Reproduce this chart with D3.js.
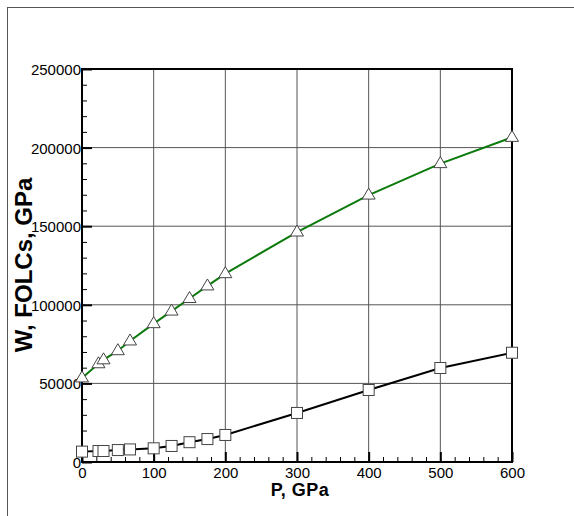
<!DOCTYPE html>
<html>
<head>
<meta charset="utf-8">
<script src="https://cdn.jsdelivr.net/npm/d3@7"></script>
<style>
  body { margin: 0; background: #fff; }
  text { font-family: "Liberation Sans", Arial, sans-serif; }
</style>
</head>
<body>
<div id="chart"></div>
<script>
// data
var pressure = [0, 23, 30, 50, 67, 100, 125, 150, 175, 200, 300, 400, 500, 600];
var upperW = [53500, 62500, 65000, 70800, 77000, 88000, 96000, 104000, 112000, 119800, 146300, 169800, 189800, 206500];
var lowerW = [6600, 7000, 7000, 7600, 8000, 8700, 10200, 12600, 14600, 17200, 31200, 45800, 59800, 69500];
var xTicks = [0, 100, 200, 300, 400, 500, 600];
var yTicks = [0, 50000, 100000, 150000, 200000, 250000];

// setup dimensions
var W = 574, H = 516;
var box = {left: 82, right: 512, top: 69, bottom: 462};

var svg = d3.select("#chart").append("svg")
  .attr("width", W)
  .attr("height", H);

// outer frame
svg.append("rect")
  .attr("x", 7.5).attr("y", 7.5)
  .attr("width", 700).attr("height", 700)
  .attr("fill", "none")
  .attr("stroke", "#555");

// setup scales
var x = d3.scaleLinear().domain([0, 600]).range([box.left, box.right]);
var y = d3.scaleLinear().domain([0, 250000]).range([box.bottom, box.top]);

// grid
var g = svg.append("g");
g.selectAll("line.gx").data(xTicks.slice(1, -1)).enter().append("line")
  .attr("x1", function(d) { return x(d); }).attr("x2", function(d) { return x(d); })
  .attr("y1", box.top).attr("y2", box.bottom)
  .attr("stroke", "#555").attr("stroke-width", 1);
g.selectAll("line.gy").data(yTicks.slice(1, -1)).enter().append("line")
  .attr("y1", function(d) { return y(d); }).attr("y2", function(d) { return y(d); })
  .attr("x1", box.left).attr("x2", box.right)
  .attr("stroke", "#555").attr("stroke-width", 1);

// minor ticks
var xMinor = d3.range(0, 601, 20).filter(function(d) { return d % 100; });
var yMinor = d3.range(0, 250001, 10000).filter(function(d) { return d % 50000; });

svg.append("g")
  .attr("transform", "translate(0," + box.bottom + ")")
  .call(d3.axisBottom(x).tickValues(xMinor).tickSize(-5).tickFormat(""))
  .call(function(a) { a.select(".domain").remove(); a.selectAll("line").attr("stroke", "#000").attr("stroke-width", 1); });
svg.append("g")
  .attr("transform", "translate(" + box.left + ",0)")
  .call(d3.axisLeft(y).tickValues(yMinor).tickSize(-5).tickFormat(""))
  .call(function(a) { a.select(".domain").remove(); a.selectAll("line").attr("stroke", "#000").attr("stroke-width", 1); });

// major ticks + labels
svg.append("g")
  .attr("transform", "translate(0," + box.bottom + ")")
  .call(d3.axisBottom(x).tickValues(xTicks).tickSize(-10).tickFormat(d3.format("d")))
  .call(function(a) {
    a.select(".domain").remove();
    a.selectAll("line").attr("stroke", "#000").attr("stroke-width", 2);
    a.selectAll("text").attr("font-size", 15).attr("fill", "#000")
      .attr("y", 16).attr("dy", "0");
  });
svg.append("g")
  .attr("transform", "translate(" + box.left + ",0)")
  .call(d3.axisLeft(y).tickValues(yTicks).tickSize(-10).tickFormat(d3.format("d")))
  .call(function(a) {
    a.select(".domain").remove();
    a.selectAll("line").attr("stroke", "#000").attr("stroke-width", 2);
    a.selectAll("text").attr("font-size", 15).attr("fill", "#000")
      .attr("x", -1).attr("dy", "0.36em");
  });

// axis frame
svg.append("rect")
  .attr("x", box.left).attr("y", box.top)
  .attr("width", box.right - box.left).attr("height", box.bottom - box.top)
  .attr("fill", "none").attr("stroke", "#000").attr("stroke-width", 2);

// lines
var line = function(vals) {
  return d3.line()
    .x(function(d, i) { return x(pressure[i]); })
    .y(function(d) { return y(d); })(vals);
};
svg.append("path").attr("d", line(upperW))
  .attr("fill", "none").attr("stroke", "#0a7a0a").attr("stroke-width", 2);
svg.append("path").attr("d", line(lowerW))
  .attr("fill", "none").attr("stroke", "#000").attr("stroke-width", 2);

// markers
svg.selectAll("path.tri").data(upperW).enter().append("path")
  .attr("class", "tri")
  .attr("d", function(d, i) {
    var cx = x(pressure[i]), cy = y(d);
    return "M" + (cx - 6.5) + "," + (cy + 4) + "L" + cx + "," + (cy - 7) + "L" + (cx + 6.5) + "," + (cy + 4) + "Z";
  })
  .attr("fill", "#fff").attr("stroke", "#444").attr("stroke-width", 1);
svg.selectAll("rect.sq").data(lowerW).enter().append("rect")
  .attr("class", "sq")
  .attr("x", function(d, i) { return x(pressure[i]) - 5.5; })
  .attr("y", function(d) { return y(d) - 5.5; })
  .attr("width", 11).attr("height", 11)
  .attr("fill", "#fff").attr("stroke", "#444").attr("stroke-width", 1);

// axis titles
svg.append("text")
  .attr("x", 300).attr("y", 496)
  .attr("text-anchor", "middle")
  .attr("font-size", 18).attr("font-weight", "bold")
  .attr("letter-spacing", 0.5)
  .text("P, GPa");
svg.append("text")
  .attr("transform", "translate(32,265) rotate(-90)")
  .attr("text-anchor", "middle")
  .attr("font-size", 24).attr("font-weight", "bold")
  .text("W, FOLCs, GPa");
</script>
</body>
</html>
